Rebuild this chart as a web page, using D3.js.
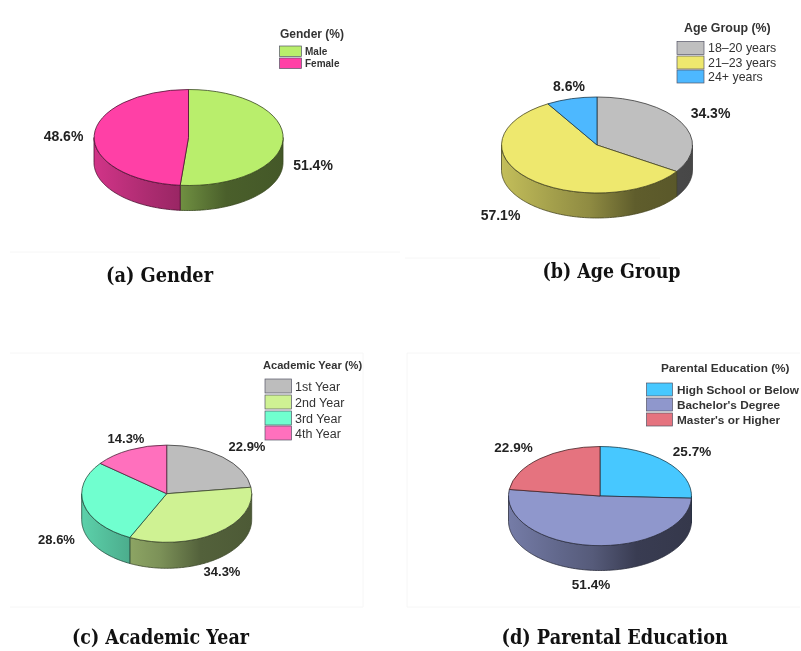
<!DOCTYPE html>
<html><head><meta charset="utf-8">
<script src="https://cdnjs.cloudflare.com/ajax/libs/d3/7.8.5/d3.min.js"></script>
<style>html,body{margin:0;padding:0;background:#fff}svg{display:block;filter:blur(.3px)}</style>
</head><body><div id="c"></div>
<script>
// ---- data ----
const genderLabels = ["Male", "Female"];
const genderValues = [51.4, 48.6];
const ageLabels = ["18–20 years", "21–23 years", "24+ years"];
const ageValues = [34.3, 57.1, 8.6];
const yearLabels = ["1st Year", "2nd Year", "3rd Year", "4th Year"];
const yearValues = [22.9, 34.3, 28.6, 14.3];
const eduLabels = ["High School or Below", "Bachelor's Degree", "Master's or Higher"];
const eduValues = [25.7, 51.4, 22.9];

// ---- layout and style ----
const panels = [
 {title:"Gender (%)", caption:"(a) Gender", labels:genderLabels, values:genderValues,
  colors:["#b9ee6c","#ff40a6"], cx:188.5, cy:137.5, rx:94.5, ry:48, depth:25,
  pct:[[313,170],[63.5,141]], pctSize:14,
  cap:[106,281.5,107],
  lt:[280,38,12], box:[279.5,22,10.5,12], lx:305, lsize:10, lweight:"bold", ly:[46,58], lfill:"#333"},
 {title:"Age Group (%)", caption:"(b) Age Group", labels:ageLabels, values:ageValues,
  colors:["#bfbfbf","#eee86e","#4db8ff"], cx:597, cy:145, rx:95.5, ry:48, depth:25,
  pct:[[710.5,117.5],[500.5,220],[569,91]], pctSize:14,
  cap:[542.5,278,138],
  lt:[684,32,12.4], box:[677,27,13,14.3], lx:708, lsize:12.4, lweight:"normal", ly:[41.5,56,70], lfill:"#333"},
 {title:"Academic Year (%)", caption:"(c) Academic Year", labels:yearLabels, values:yearValues,
  colors:["#bdbdbd","#cff293","#70ffcf","#ff70bd"], cx:166.7, cy:493.7, rx:85, ry:48.6, depth:26,
  pct:[[247,451],[222,576],[56.5,544],[126,442.5]], pctSize:13,
  cap:[72,644,177],
  lt:[263,369,11.1], box:[265,26.5,14,15.6], lx:295, lsize:12.5, lweight:"normal", ly:[379,395,411,426], lfill:"#333"},
 {title:"Parental Education (%)", caption:"(d) Parental Education", labels:eduLabels, values:eduValues,
  colors:["#47c8ff","#8f97cc","#e5737f"], cx:600, cy:496, rx:91.5, ry:49.5, depth:25,
  pct:[[692,455.5],[591,589],[513.5,452]], pctSize:13.5,
  cap:[501.5,644,226.5],
  lt:[661,372,11.8], box:[646.5,26,13,15], lx:677, lsize:11.8, lweight:"bold", ly:[383,398,413], lfill:"#333"}
];
const frames = [
 [[10,252],[400,252]], [[405,258],[660,258]],
 [[10,353],[363,353]], [[10,607],[363,607]], [[363,353],[363,607]],
 [[407,353],[800,353]], [[407,607],[800,607]], [[407,353],[407,607]]
];
const shade = [[0,.82],[.28,.68],[.46,.6],[.7,.4],[1,.37]];
const sans = "'Liberation Sans',Arial,sans-serif";

const svg = d3.select("#c").append("svg").attr("width",801).attr("height",651);
const defs = svg.append("defs");
svg.append("g").selectAll("line").data(frames).join("line")
  .attr("x1",d=>d[0][0]).attr("y1",d=>d[0][1]).attr("x2",d=>d[1][0]).attr("y2",d=>d[1][1])
  .attr("stroke","#f6f6f6");

const pieGen = d3.pie().sort(null).value(d=>d).startAngle(0).endAngle(2*Math.PI);
const front0 = Math.PI/2, front1 = 3*Math.PI/2;

panels.forEach((p,pi)=>{
  const g = svg.append("g");
  const x = d3.scaleLinear().domain([-1,1]).range([p.cx-p.rx,p.cx+p.rx]);
  const y = d3.scaleLinear().domain([-1,1]).range([p.cy-p.ry,p.cy+p.ry]);
  const arcs = pieGen(p.values);
  const line = d3.line().x(d=>d[0]).y(d=>d[1]);
  const edgeColor = c => { const k=d3.rgb(c); return d3.rgb(k.r*.3,k.g*.3,k.b*.3).formatHex(); };

  // gradients of the outer wall
  p.colors.forEach((c,i)=>{
    const base = d3.rgb(c);
    const gr = defs.append("linearGradient").attr("id",`w${pi}_${i}`)
      .attr("gradientUnits","userSpaceOnUse")
      .attr("x1",x(-1)).attr("x2",x(1)).attr("y1",0).attr("y2",0);
    gr.selectAll("stop").data(shade).join("stop")
      .attr("offset",d=>d[0])
      .attr("stop-color",d=>d3.rgb(base.r*d[1],base.g*d[1],base.b*d[1]).formatHex());
  });

  // outer wall
  arcs.forEach((a,i)=>{
    const s = Math.max(a.startAngle,front0), e = Math.min(a.endAngle,front1);
    if (e<=s) return;
    const angles = d3.range(s,e,Math.PI/180).concat([e]);
    const rim = angles.map(t=>[x(Math.sin(t)),y(-Math.cos(t))]);
    const low = rim.map(d=>[d[0],d[1]+p.depth]).reverse();
    g.append("path").attr("d",line(rim.concat(low))+"Z")
      .attr("fill",`url(#w${pi}_${i})`)
      .attr("stroke",edgeColor(p.colors[i])).attr("stroke-width",.8).attr("stroke-linejoin","round");
  });

  // top face
  const arc = d3.arc().innerRadius(0).outerRadius(1);
  g.append("g").attr("transform",`translate(${p.cx},${p.cy}) scale(${p.rx},${p.ry})`)
    .selectAll("path").data(arcs).join("path")
    .attr("d",arc).attr("fill",(d,i)=>p.colors[i])
    .attr("stroke",(d,i)=>edgeColor(p.colors[i])).attr("stroke-width",.8)
    .attr("vector-effect","non-scaling-stroke").attr("stroke-linejoin","round");

  // value labels
  g.append("g").selectAll("text").data(p.values).join("text")
    .attr("x",(d,i)=>p.pct[i][0]).attr("y",(d,i)=>p.pct[i][1])
    .attr("text-anchor","middle").attr("font-family",sans).attr("font-weight","bold")
    .attr("font-size",p.pctSize).attr("fill","#222")
    .text(d=>d.toFixed(1)+"%");

  // legend
  const lg = g.append("g");
  lg.append("text").attr("x",p.lt[0]).attr("y",p.lt[1]).attr("font-family",sans)
    .attr("font-weight","bold").attr("font-size",p.lt[2]).attr("fill","#333").text(p.title);
  lg.selectAll("rect").data(p.labels).join("rect")
    .attr("x",p.box[0]).attr("y",(d,i)=>p.ly[i]).attr("width",p.box[1]).attr("height",p.box[2])
    .attr("fill",(d,i)=>p.colors[i]).attr("stroke","#556").attr("stroke-width",.7);
  lg.selectAll("text.it").data(p.labels).join("text").attr("class","it")
    .attr("x",p.lx).attr("y",(d,i)=>p.ly[i]+p.box[2]/2+p.lsize*.36)
    .attr("font-family",sans).attr("font-size",p.lsize).attr("font-weight",p.lweight)
    .attr("fill",p.lfill).text(d=>d);

  // caption
  g.append("text").attr("x",p.cap[0]).attr("y",p.cap[1]).attr("textLength",p.cap[2])
    .attr("lengthAdjust","spacingAndGlyphs")
    .attr("font-family","'DejaVu Serif','Liberation Serif',serif").attr("font-weight","bold")
    .attr("font-size",20.5).attr("fill","#111").text(p.caption);
});
</script></body></html>
